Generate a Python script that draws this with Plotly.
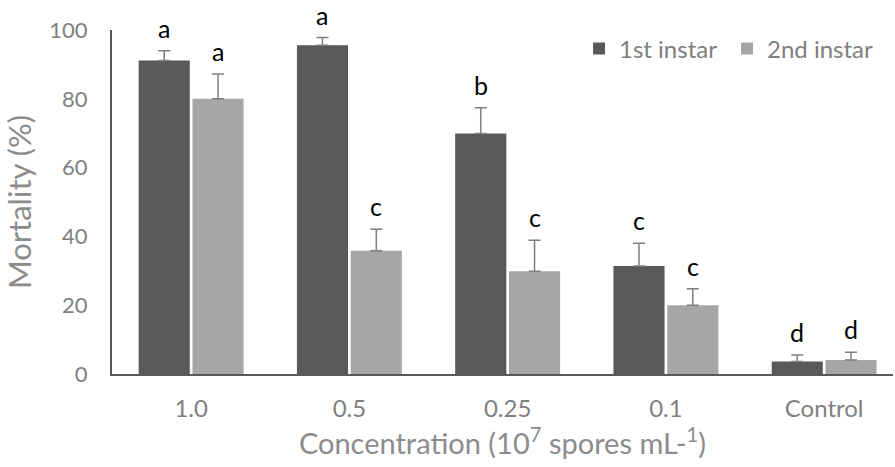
import plotly.graph_objects as go

categories = ["1.0", "0.5", "0.25", "0.1", "Control"]
first_instar = [91.1, 95.6, 69.9, 31.4, 3.6]
first_err = [2.9, 2.2, 7.5, 6.6, 1.9]
second_instar = [80.0, 35.8, 29.9, 20.0, 4.1]
second_err = [7.2, 6.3, 9.0, 4.8, 2.2]
first_letters = ["a", "a", "b", "c", "d"]
second_letters = ["a", "c", "c", "c", "d"]
y_ticks = [0, 20, 40, 60, 80, 100]

FONT = "Lato, 'Open Sans', sans-serif"
DARK = "#595959"
LIGHT = "#a6a6a6"
ERR = "#7f7f7f"

fig = go.Figure()
fig.add_trace(go.Bar(
    name="1st instar", x=categories, y=first_instar,
    marker=dict(color=DARK, line=dict(width=0)),
    error_y=dict(type="data", array=first_err, visible=True, color=ERR, thickness=1.5, width=6, symmetric=False, arrayminus=[0]*5),
))
fig.add_trace(go.Bar(
    name="2nd instar", x=categories, y=second_instar,
    marker=dict(color=LIGHT, line=dict(width=0)),
    error_y=dict(type="data", array=second_err, visible=True, color=ERR, thickness=1.5, width=6, symmetric=False, arrayminus=[0]*5),
))

annotations = []
for i, c in enumerate(categories):
    annotations.append(dict(x=i, y=first_instar[i] + first_err[i], text=first_letters[i], xref="x", yref="y",
                            showarrow=False, yanchor="bottom", xshift=-27, yshift=6,
                            font=dict(family=FONT, size=25, color="#000000")))
    annotations.append(dict(x=i, y=second_instar[i] + second_err[i], text=second_letters[i], xref="x", yref="y",
                            showarrow=False, yanchor="bottom", xshift=27, yshift=6,
                            font=dict(family=FONT, size=25, color="#000000")))

fig.update_layout(
    width=895, height=467,
    margin=dict(l=112, r=2, t=30, b=93, autoexpand=False),
    paper_bgcolor="white", plot_bgcolor="white",
    barmode="group", bargap=0.32, bargroupgap=0.05,
    font=dict(family=FONT, color="#7f7f7f"),
    showlegend=True,
    legend=dict(orientation="h", x=0.977, xanchor="right", y=0.945, yanchor="middle",
                font=dict(family=FONT, size=24, color="#7f7f7f"), bgcolor="rgba(0,0,0,0)",
                itemwidth=30, entrywidth=103, traceorder="normal"),
    annotations=annotations,
    xaxis=dict(
        type="category", range=[-0.5, 4.435], automargin=False,
        showline=True, linecolor="#595959", linewidth=2,
        ticks="", showgrid=False, zeroline=False, ticklabelstandoff=12,
        tickfont=dict(family=FONT, size=24, color="#7f7f7f"),
        title=dict(text="Concentration (10<sup>7</sup> spores mL-<sup>1</sup>)",
                   font=dict(family=FONT, size=29, color="#8c8c8c"), standoff=12),
    ),
    yaxis=dict(
        range=[0, 100], tickvals=y_ticks, automargin=False,
        showline=True, linecolor="#595959", linewidth=2,
        ticks="", showgrid=False, zeroline=False, ticklabelstandoff=18,
        tickfont=dict(family=FONT, size=22, color="#7f7f7f"),
        title=dict(text="Mortality (%)", font=dict(family=FONT, size=31, color="#8c8c8c"), standoff=15),
    ),
)

fig.write_html("out.html", config={"displayModeBar": False},
               post_script="document.body.style.margin='0';")
